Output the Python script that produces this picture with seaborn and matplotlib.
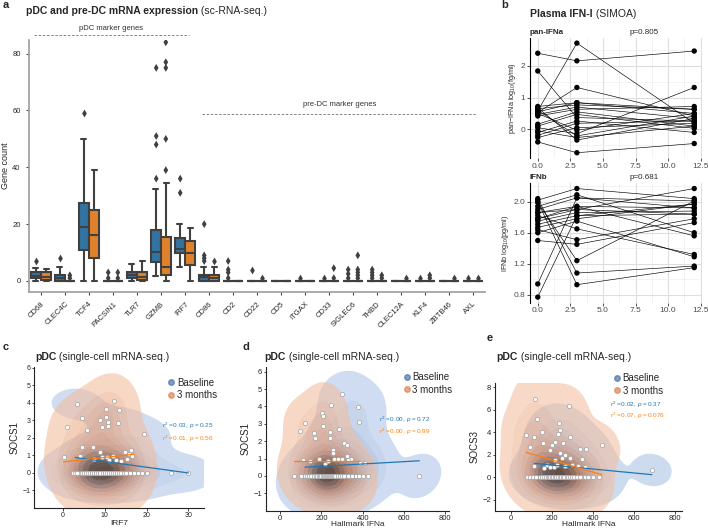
import numpy as np
import pandas as pd
import seaborn as sns
import matplotlib.pyplot as plt
from matplotlib.lines import Line2D
from matplotlib.ticker import MultipleLocator
from matplotlib.colors import LinearSegmentedColormap

# ---------------- panel a: gene counts (box summaries)
genes = ["CD68", "CLEC4C", "TCF4", "PACSIN1", "TLR7", "GZMB", "IRF7", "CD86", "CD2", "CD22",
         "CD5", "ITGAX", "CD33", "SIGLEC6", "THBD", "CLEC12A", "KLF4", "ZBTB46", "AXL"]
times = ["Baseline", "3 months"]
zero5 = [0, 0, 0, 0, 0]
# whisker-low, q1, median, q3, whisker-high
box_base = {"CD68": [0, 0.9, 1.9, 3.05, 4.4], "CLEC4C": [0, 0, 1, 2.1, 5], "TCF4": [0, 11, 19, 27.3, 50],
            "TLR7": [0, 0.9, 2.1, 3.2, 6], "GZMB": [1.8, 6.8, 10.3, 18.1, 32.2],
            "IRF7": [5, 9.9, 11.1, 15, 20], "CD86": [0, 0, 1.3, 2.1, 5]}
box_3m = {"CD68": [0, 0.3, 1.3, 3, 4.2], "TCF4": [0, 8.2, 16.1, 25.1, 39.2], "TLR7": [0, 0.4, 1.5, 3.2, 7],
          "GZMB": [0, 2.1, 5, 15.6, 34.3], "IRF7": [0, 5.6, 10, 14.1, 18.8], "CD86": [0, 0, 1, 2, 5]}
out_base = {"CD68": [7], "CLEC4C": [8], "TCF4": [59], "PACSIN1": [1, 3], "GZMB": [36, 48, 51, 75],
            "IRF7": [31, 36], "CD86": [7, 8, 9, 20], "CD2": [1, 3, 4, 7], "CD22": [4], "ITGAX": [1],
            "CD33": [1], "SIGLEC6": [1, 2.5, 4], "THBD": [1, 2, 3, 4], "KLF4": [1], "AXL": [1]}
out_3m = {"CLEC4C": [1, 2], "PACSIN1": [1, 3], "GZMB": [39, 50, 75, 77, 84], "CD86": [7], "CD22": [1],
          "CD33": [1, 4.5], "SIGLEC6": [1, 2, 3, 4, 9], "THBD": [1, 2], "CLEC12A": [1], "KLF4": [1, 2],
          "ZBTB46": [1], "AXL": [1]}
marker_groups = [("pDC marker genes", "CD68", "IRF7", 86.7, 88.8),
                 ("pre-DC marker genes", "CD86", "AXL", 58.6, 62.2)]

# ---------------- panel b: plasma IFN-I per subject
timepoints = [0, 3, 12]
pan_ifna_t0 = [2.40, 1.84, 0.58, 0.53, 0.72, 0.65, 0.47, 0.42, 0.16, 0.10, 0.05, -0.10, -0.19, -0.26, -0.40, 0.60, 0.68, 0.50, -0.05, 0.55]
pan_ifna_t3 = [2.16, 0.37, 2.72, 1.32, 0.84, 0.77, 0.70, 0.63, 0.55, 0.47, -0.14, 0.26, 0.19, 0.05, -0.74, -0.21, -0.34, -0.03, -0.26, 0.84]
pan_ifna_t12 = [2.47, 0.26, 0.19, 0.42, 0.50, 0.63, 0.34, 0.72, 0.10, 0.03, 1.32, -0.10, 0.26, 0.19, -0.45, 0.42, 0.34, 0.50, 0.10, 0.63]
ifnb_t0 = [2.04, 2.02, 1.99, 1.94, 1.90, 1.86, 1.82, 1.78, 1.75, 1.71, 1.67, 1.64, 1.60, 1.50, 0.94, 0.77, 2.00, 1.86, 1.78]
ifnb_t3 = [1.08, 2.17, 1.24, 2.09, 2.05, 1.94, 1.65, 1.90, 1.86, 1.82, 1.78, 1.51, 1.75, 1.45, 2.05, 1.82, 0.93, 1.90, 1.94]
ifnb_t12 = [1.17, 2.04, 2.01, 1.60, 1.92, 1.56, 1.32, 2.17, 1.88, 1.84, 1.97, 1.78, 1.29, 1.73, 2.01, 1.97, 1.15, 1.84, 1.92]

# ---------------- panels c-e: single cells (x at SOCS=0, then (x, y) cells with SOCS>0)
c_base_zero = [3, 3.5, 4, 5, 5.5, 6, 6.5, 7, 7.5, 8, 8, 8.5, 9, 9, 9.5, 10, 10, 10.5, 11, 11, 11.5, 12,
               12.5, 13, 13.5, 14, 14.5, 15, 15.5, 16, 17, 18, 19, 20, 25.8, 30]
c_base_pts = [(3.3, 3.96), (19.4, 2.2), (13.3, 2.86), (8.9, 1.2), (10.5, 0.9), (12.1, 0.97), (14.0, 0.7),
              (15.3, 0.82), (15.7, 1.07), (16.6, 0.95), (7.5, 0.8), (11.0, 0.75)]
c_3m_zero = [2.5, 3, 3.5, 4.5, 5, 5.5, 6, 6.5, 7, 7, 7.5, 8, 8, 8.5, 9, 9, 9.5, 10, 10, 10.5, 11, 11.5,
             12, 12.5, 13, 13.5, 14, 14.5, 15, 16, 17]
c_3m_pts = [(1, 2.6), (4.7, 3.16), (5.9, 2.48), (8.9, 3.05), (9.3, 2.6), (10.3, 3.2), (10.9, 2.9), (10.9, 2.7),
            (10.3, 3.68), (12.3, 4.1), (13.4, 3.58), (0.2, 0.9), (4.5, 1.5), (4.1, 0.95), (7.3, 1.5),
            (9.3, 0.9), (12.6, 0.76), (14.9, 1.2), (16.3, 1.33)]
d_base_zero = [120, 150, 170, 180, 190, 200, 205, 210, 215, 220, 225, 230, 240, 245, 250, 260, 270, 280,
               290, 300, 310, 320, 330, 340, 355, 370, 385, 400, 423, 674]
d_base_pts = [(299, 4.71), (378, 3.98), (326, 1.17), (310, 1.88), (323, 1.78), (283, 2.7), (380, 3.12),
              (257, 1.5), (254, 1.34), (300, 0.95), (345, 0.95), (385, 0.75), (410, 0.75)]
d_3m_zero = [68, 100, 120, 130, 140, 150, 165, 175, 180, 190, 195, 200, 205, 210, 215, 220, 225, 230,
             235, 240, 245, 250, 255, 260, 265, 280, 290, 300, 310, 330, 350, 365, 380]
d_3m_pts = [(202, 3.6), (205, 3.45), (121, 3.07), (205, 2.87), (246, 4.08), (95, 2.6), (165, 2.45), (170, 2.2),
            (242, 2.55), (242, 2.16), (108, 0.92), (145, 0.85), (190, 0.95), (215, 0.7), (232, 0.85),
            (260, 1.0), (280, 0.95), (330, 0.9)]
e_base_zero = [115, 150, 175, 195, 200, 210, 220, 225, 235, 240, 250, 255, 265, 270, 280, 290, 300, 310,
               320, 335, 345, 360, 370, 385, 400, 428]
e_base_pts = [(228, 3.82), (216, 3.14), (200, 2.85), (289, 3.58), (257, 3.0), (338, 2.47), (367, 2.55),
              (241, 2.17), (262, 1.97), (216, 1.53), (249, 1.67), (289, 1.67), (346, 1.59), (175, 1.05),
              (210, 0.95), (265, 1.0), (330, 1.0), (360, 0.95), (688, 0.65), (237, 4.82), (241, 4.23)]
e_3m_zero = [78, 95, 110, 125, 140, 150, 160, 170, 180, 185, 190, 200, 205, 215, 220, 230, 240, 245, 255,
             260, 275, 280, 290, 300, 310, 325, 340, 360, 375]
e_3m_pts = [(119, 6.96), (285, 6.31), (130, 5.14), (75, 3.79), (111, 3.58), (151, 4.02), (156, 3.08),
            (94, 2.7), (190, 2.4), (444, 2.9), (115, 1.0), (160, 0.8), (190, 0.9), (225, 1.1), (300, 1.05)]
# linear fits (intercept, slope) and stats labels
fits = {"c": [(0.985, -0.0328), (0.63, 0.026)],
        "d": [(0.423, 0.000665), (0.86, 0.0)],
        "e": [(1.431, -0.001745), (2.621, -0.005393)]}
stats = {"c": [("0.03", "0.25"), ("0.01", "0.56")],
         "d": [("0.00", "0.72"), ("0.00", "0.99")],
         "e": [("0.02", "0.37"), ("0.07", "0.076")]}

sns.set_theme(style="ticks")
plt.rcParams["font.family"] = ["Liberation Sans", "DejaVu Sans"]
plt.rcParams["mathtext.fontset"] = "custom"
plt.rcParams["mathtext.rm"] = "Liberation Sans"
plt.rcParams["mathtext.it"] = "Liberation Sans:italic"
plt.rcParams["axes.unicode_minus"] = True

fig = plt.figure(figsize=(7.08, 5.30), dpi=100)
box_cols = ["#1f77b4", "#ff7f0e"]
kde_cols = ["#4c72b0", "#dd8452"]
kde_cmaps = [LinearSegmentedColormap.from_list("bl", ["#b3c9ea", "#5b7fbc", "#1c2438"]),
             LinearSegmentedColormap.from_list("or", ["#f5c3a5", "#d9804f", "#3a1c0c"])]


def two_part(x, y, bold, rest, size, ref_ax):
    t = fig.text(x, y, bold, fontsize=size, fontweight="bold", va="center", ha="left")
    ref_ax.annotate(rest, xy=(1, 0), xycoords=t, va="bottom", ha="left", fontsize=size,
                    annotation_clip=False)


# ================= panel a
rows, orows = [], []
for g in genes:
    for v in box_base.get(g, zero5):
        rows.append((g, "Baseline", v))
    for v in box_3m.get(g, zero5):
        rows.append((g, "3 months", v))
    for v in out_base.get(g, []):
        orows.append((g, "Baseline", v))
    for v in out_3m.get(g, []):
        orows.append((g, "3 months", v))
box_df = pd.DataFrame(rows, columns=["gene", "time", "count"])
out_df = pd.DataFrame(orows, columns=["gene", "time", "count"])

ax_a = fig.add_axes([0.041, 0.449, 0.644, 0.4755])
sns.boxplot(data=box_df, x="gene", y="count", hue="time", order=genes, hue_order=times,
            palette=box_cols, width=0.85, linewidth=1.5, linecolor="#404040",
            showfliers=False, legend=False, ax=ax_a)
sns.stripplot(data=out_df, x="gene", y="count", hue="time", order=genes, hue_order=times,
              palette=["#404040", "#404040"], dodge=True, jitter=False, marker="d", size=4,
              legend=False, ax=ax_a)
ax_a.set_xlim(-0.5, len(genes) - 0.5)
ax_a.set_ylim(-3.9, 84.8)
ax_a.set_xlabel("")
ax_a.set_ylabel("Gene count", fontsize=6.5)
ax_a.yaxis.set_label_coords(-0.042, 0.5)
ax_a.set_yticks([0, 20, 40, 60, 80])
ax_a.tick_params(labelsize=5.5, length=2.5, width=0.8, color="#404040")
plt.setp(ax_a.get_xticklabels(), rotation=45, ha="right", rotation_mode="anchor")
sns.despine(ax=ax_a)
for s in ["left", "bottom"]:
    ax_a.spines[s].set_color("#a0a0a0")
for label, g0, g1, yl, yt in marker_groups:
    i0, i1 = genes.index(g0) - 0.3, genes.index(g1) + 0.15
    ax_a.plot([i0, i1], [yl, yl], ls=(0, (3, 2)), color="#707070", lw=0.6, clip_on=False)
    ax_a.text((i0 + i1) / 2, yt, label, ha="center", va="center", fontsize=5.5, color="#333333")

fig.text(0.004, 0.9906, "a", fontsize=8, fontweight="bold", va="center")
two_part(0.037, 0.980, "pDC and pre-DC mRNA expression", " (sc-RNA-seq.)", 7.5, ax_a)


# ================= panel b
def ifn_frame(t0, t3, t12):
    recs = []
    for sid, vals in enumerate(zip(t0, t3, t12)):
        for t, v in zip(timepoints, vals):
            recs.append((sid, t, v))
    return pd.DataFrame(recs, columns=["subject", "time", "value"])


b_specs = [([0.7485, 0.7015, 0.2431, 0.2275], ifn_frame(pan_ifna_t0, pan_ifna_t3, pan_ifna_t12),
            "pan-IFNa", "p=0.805", r"pan$-$IFNa log$_{10}$(fg/ml)", 1.0, (-0.913, 2.893)),
           ([0.7485, 0.4292, 0.2431, 0.2253], ifn_frame(ifnb_t0, ifnb_t3, ifnb_t12),
            "IFNb", "p=0.681", r"IFNb log$_{10}$(pg/ml)", 0.4, (0.70, 2.24))]
for rect, df, name, ptxt, ylab, ystep, ylim in b_specs:
    ax = fig.add_axes(rect)
    sns.lineplot(data=df, x="time", y="value", units="subject", estimator=None, color="black",
                 lw=0.45, ax=ax)
    sns.scatterplot(data=df, x="time", y="value", color="black", s=15, edgecolor="none", ax=ax, zorder=3)
    ax.set_xlim(-0.6, 12.6)
    ax.set_ylim(*ylim)
    ax.xaxis.set_major_locator(MultipleLocator(2.5))
    ax.xaxis.set_minor_locator(MultipleLocator(1.25))
    ax.yaxis.set_major_locator(MultipleLocator(ystep))
    ax.yaxis.set_minor_locator(MultipleLocator(ystep / 2))
    ax.xaxis.set_major_formatter(plt.FuncFormatter(lambda v, p: f"{v:.1f}"))
    if ystep < 1:
        ax.yaxis.set_major_formatter(plt.FuncFormatter(lambda v, p: f"{v:.1f}"))
    else:
        ax.yaxis.set_major_formatter(plt.FuncFormatter(lambda v, p: f"{v:.0f}"))
    ax.grid(which="major", color="#dedede", lw=0.8)
    ax.grid(which="minor", color="#ececec", lw=0.45)
    ax.set_axisbelow(True)
    for s in ["top", "right", "bottom"]:
        ax.spines[s].set_visible(False)
    ax.spines["left"].set_color("black")
    ax.spines["left"].set_linewidth(0.8)
    ax.tick_params(which="major", labelsize=6, length=2, width=0.6, color="#333333",
                   labelcolor="#4d4d4d", pad=1.5)
    ax.tick_params(which="minor", length=0)
    ax.set_xlabel("")
    ax.set_ylabel(ylab, fontsize=5.2, labelpad=2)
    ax.text(0.0, 1.045, name, transform=ax.transAxes, fontsize=5.8, fontweight="bold", va="center")
    ax.text(0.664, 1.045, ptxt, transform=ax.transAxes, fontsize=5.8, ha="center", va="center")

fig.text(0.7086, 0.9906, "b", fontsize=8, fontweight="bold", va="center")
two_part(0.7486, 0.9736, "Plasma IFN-I", " (SIMOA)", 7.5, ax_a)


# ================= panels c-e
def cell_frame(bz, bp, mz, mp):
    recs = [(x, 0.0, "Baseline") for x in bz] + [(x, y, "Baseline") for x, y in bp]
    recs += [(x, 0.0, "3 months") for x in mz] + [(x, y, "3 months") for x, y in mp]
    return pd.DataFrame(recs, columns=["x", "y", "time"])


cde = [("c", [0.0484, 0.0415, 0.2397, 0.266], cell_frame(c_base_zero, c_base_pts, c_3m_zero, c_3m_pts),
        "IRF7", "SOCS1", (-6.8, 33.7), (-2.0, 6.05), [0, 10, 20, 30], list(range(-1, 7)),
        (0.75, 0.96), [(0.75, 0.585), (0.75, 0.49)], 4.6, 5.0, -0.088),
       ("d", [0.3757, 0.0364, 0.2585, 0.2706], cell_frame(d_base_zero, d_base_pts, d_3m_zero, d_3m_pts),
        "Hallmark IFNa", "SOCS1", (-69, 818), (-2.0, 6.25), [0, 200, 400, 600, 800], list(range(-1, 7)),
        (0.715, 1.0), [(0.617, 0.632), (0.617, 0.55)], 4.6, 5.5, -0.074),
       ("e", [0.6992, 0.0358, 0.2637, 0.2421], cell_frame(e_base_zero, e_base_pts, e_3m_zero, e_3m_pts),
        "Hallmark IFNa", "SOCS3", (-77, 834), (-3.0, 8.4), [0, 200, 400, 600, 800], [-2, 0, 2, 4, 6, 8],
        (0.6, 1.11), [(0.616, 0.83), (0.616, 0.738)], 4.6, 5.5, -0.08)]

for key, rect, df, xlab, ylab, xlim, ylim, xt, yt, leg_pos, stat_pos, stat_fs, tick_fs, xlab_y in cde:
    ax = fig.add_axes(rect)
    for t, cm in zip(times, kde_cmaps):
        sns.kdeplot(data=df[df["time"] == t], x="x", y="y", fill=True, cmap=cm, alpha=0.58,
                    levels=10, thresh=0.02, bw_adjust=1.45, ax=ax, antialiased=True)
    sns.scatterplot(data=df, x="x", y="y", color="white", edgecolor="#a0a0a0", s=9, linewidth=0.5,
                    ax=ax, zorder=3)
    for (b0, b1), t, col in zip(fits[key], times, box_cols):
        sub = df[df["time"] == t]
        xs = np.array([sub["x"].min(), sub["x"].max()])
        ax.plot(xs, b0 + b1 * xs, color=col, lw=0.9, zorder=4)
    for (r2, pv), (sx, sy), col in zip(stats[key], stat_pos, box_cols):
        ax.text(sx, sy, rf"$r^2 = {r2},\ p = {pv}$", transform=ax.transAxes, color=col,
                fontsize=stat_fs, va="center", ha="left")
    handles = [Line2D([], [], marker="o", ls="", color=c, alpha=0.7, markersize=4) for c in kde_cols]
    ax.legend(handles, times, loc="upper left", bbox_to_anchor=leg_pos, frameon=False, fontsize=7,
              handletextpad=0.1, labelspacing=0.25, borderpad=0, handlelength=1.0)
    ax.set_xlim(*xlim)
    ax.set_ylim(*ylim)
    ax.set_xticks(xt)
    ax.set_yticks(yt)
    ax.set_xlabel(xlab, fontsize=6.0)
    ax.xaxis.set_label_coords(0.5, xlab_y)
    ax.set_ylabel(ylab, fontsize=7, labelpad=2)
    ax.tick_params(labelsize=tick_fs, length=1.8, width=0.6, pad=1)
    sns.despine(ax=ax)
    for s in ["left", "bottom"]:
        ax.spines[s].set_linewidth(0.8)
        ax.spines[s].set_color("#222222")

fig.text(0.004, 0.3458, "c", fontsize=8, fontweight="bold", va="center")
fig.text(0.342, 0.3458, "d", fontsize=8, fontweight="bold", va="center")
fig.text(0.6874, 0.3617, "e", fontsize=8, fontweight="bold", va="center")
for x in [0.0494, 0.374, 0.7016]:
    two_part(x, 0.3264, "pDC", " (single-cell mRNA-seq.)", 7.5, ax_a)

fig.savefig("out.png", dpi=100)
